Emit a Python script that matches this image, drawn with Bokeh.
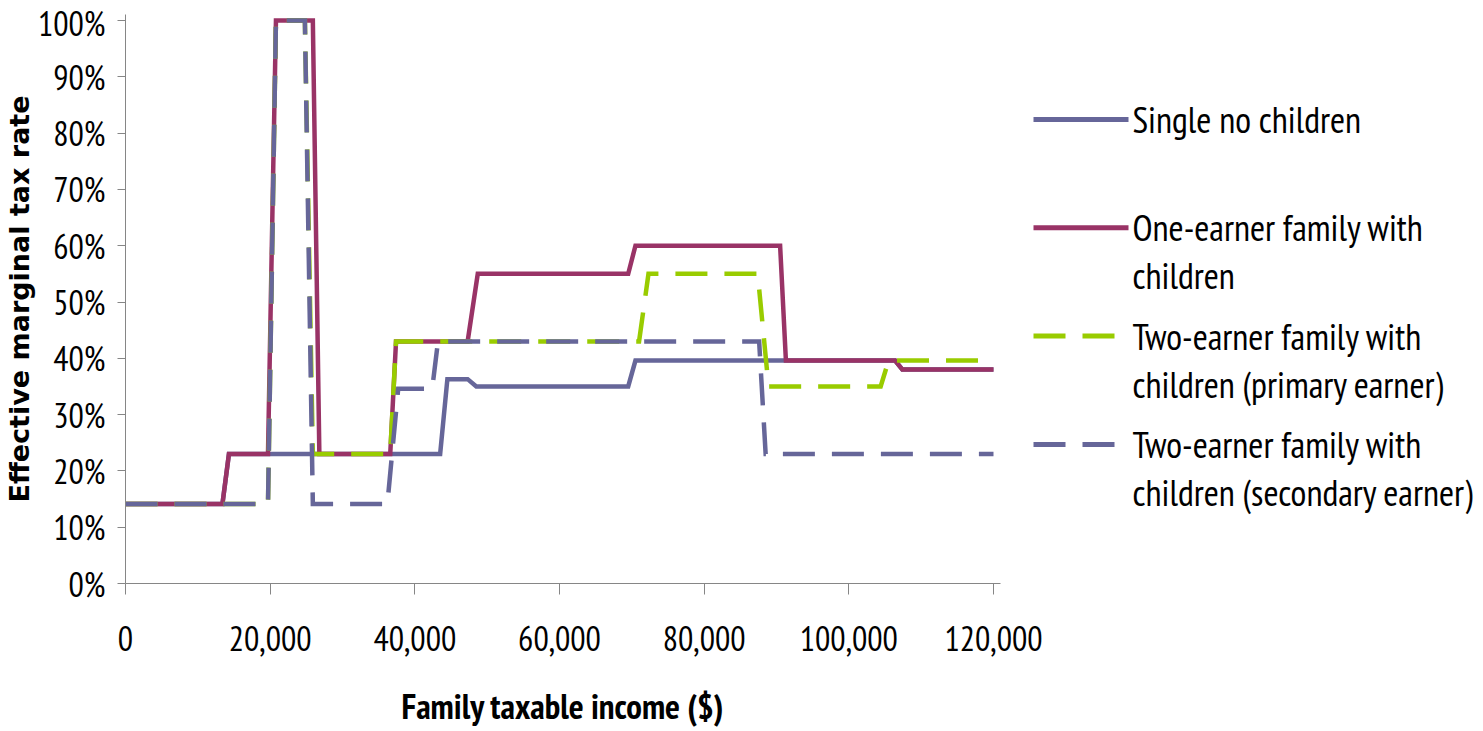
from bokeh.plotting import figure
from bokeh.layouts import row
from bokeh.models import Range1d, FixedTicker, NumeralTickFormatter
from bokeh.core.properties import value
from bokeh.embed import file_html
from bokeh.resources import INLINE

# ---- data ----
income_ticks = [0, 20000, 40000, 60000, 80000, 100000, 120000]
rate_ticks = [0.0, 0.1, 0.2, 0.3, 0.4, 0.5, 0.6, 0.7, 0.8, 0.9, 1.0]

series_names = [
    ["Single no children"],
    ["One-earner family with", "children"],
    ["Two-earner family with", "children (primary earner)"],
    ["Two-earner family with", "children (secondary earner)"],
]

single_income = [0, 13400, 14300, 43500, 44500, 47300, 48500, 69500, 70500, 106400, 107400, 120000]
single_rate = [14.1, 14.1, 23, 23, 36.3, 36.3, 35, 35, 39.6, 39.6, 38, 38]

one_income = [0, 13400, 14300, 19700, 20800, 25900, 26800, 36600, 37400, 47300, 48700,
              69500, 70500, 90500, 91300, 106400, 107400, 120000]
one_rate = [14.1, 14.1, 23, 23, 100, 100, 23, 23, 43, 43, 55, 55, 60, 60, 39.6, 39.6, 38, 38]

primary_income = [0, 19700, 20800, 24800, 25900, 36600, 37400, 71000, 72300, 87400, 88900,
                  104400, 105500, 120000]
primary_rate = [14.1, 14.1, 100, 100, 23, 23, 43, 43, 55, 55, 35, 35, 39.6, 39.6]

secondary_income = [0, 19700, 20800, 24800, 25900, 36200, 37700, 42400, 43200, 87600, 88500, 120000]
secondary_rate = [14.1, 14.1, 100, 100, 14.1, 14.1, 34.6, 34.6, 43, 43, 23, 23]

colors = ["#666699", "#993366", "#99CC00", "#666699"]
dashes = ["solid", "solid", "32 17", "32 17"]

FONT = "PT Sans Narrow"
p = figure(width=1050, height=731, output_backend="svg", toolbar_location=None,
           x_range=Range1d(0, 120968), y_range=Range1d(0, 1.0107),
           min_border_left=125, min_border_right=50, min_border_top=14,
           min_border_bottom=148)
p.outline_line_color = None
p.grid.visible = False

data = [(single_income, single_rate), (one_income, one_rate),
        (primary_income, primary_rate), (secondary_income, secondary_rate)]
for (xs, ys), c, d in zip(data, colors, dashes):
    p.line(xs, [v / 100 for v in ys], line_color=c, line_width=4.5,
           line_dash=d, line_join="miter")

xa = p.xaxis[0]
xa.ticker = FixedTicker(ticks=income_ticks)
xa.formatter = NumeralTickFormatter(format="0,0")
xa.minor_tick_line_color = None
xa.major_tick_in = 0
xa.major_tick_out = 11
xa.axis_line_color = "#868686"
xa.major_tick_line_color = "#868686"
xa.major_label_text_font = FONT
xa.major_label_text_font_size = "34px"
xa.major_label_text_color = "black"
xa.major_label_standoff = 31
xa.axis_label = "Family taxable income ($)"
xa.axis_label_text_font = FONT
xa.axis_label_text_font_style = "bold"
xa.axis_label_text_font_size = "35px"
xa.axis_label_text_color = "black"
xa.axis_label_standoff = 29

ya = p.yaxis[0]
ya.ticker = FixedTicker(ticks=rate_ticks)
ya.formatter = NumeralTickFormatter(format="0%")
ya.minor_tick_line_color = None
ya.major_tick_in = 0
ya.major_tick_out = 8
ya.axis_line_color = "#868686"
ya.major_tick_line_color = "#868686"
ya.major_label_text_font = FONT
ya.major_label_text_font_size = "34px"
ya.major_label_text_color = "black"
ya.major_label_standoff = 12
ya.axis_label = "Effective marginal tax rate"
ya.axis_label_text_font = "DejaVu Sans"
ya.axis_label_text_font_style = "bold"
ya.axis_label_text_font_size = "27px"
ya.axis_label_text_color = "black"
ya.axis_label_standoff = 0

# legend panel (transparent, overlapping the main figure's right margin);
# its frame is aligned with the main frame (page y 14..583)
lg = figure(width=483, height=731, output_backend="svg", toolbar_location=None,
            x_range=Range1d(1000, 1483), y_range=Range1d(583, 14),
            min_border=0, x_axis_type=None, y_axis_type=None,
            margin=(0, 0, 0, -50))
lg.outline_line_color = None
lg.grid.visible = False
lg.background_fill_alpha = 0
lg.border_fill_alpha = 0
first_y, item_pitch, line_pitch = 119, 108.3, 48
for i, (names, c, d) in enumerate(zip(series_names, colors, dashes)):
    y0 = first_y + i * item_pitch
    lg.line([1033, 1128], [y0, y0], line_color=c, line_width=5, line_dash=d)
    lg.text([1132] * len(names), [y0 + k * line_pitch for k in range(len(names))], text=names,
            text_font=value(FONT), text_font_size="36.5px", text_baseline="middle",
            text_color="black")

open("out.html", "w").write(file_html(row(p, lg), INLINE))
